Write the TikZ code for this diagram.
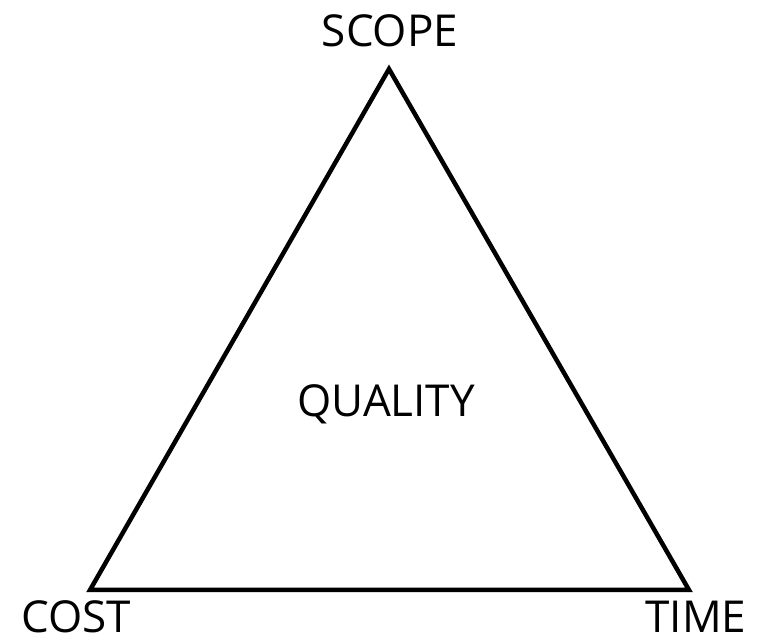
\documentclass[tikz,border=0pt]{standalone}
\usepackage{fontspec}
\setmainfont{Open Sans}
\usepackage{tikz}
\usetikzlibrary{positioning}
\tikzset{
		edgeStyle/.style = 	{line width = 4.5pt, line join=miter},
		label/.style = 		{anchor=base, inner sep=0pt, font=\fontsize{44}{50}\selectfont},
		node distance=2.3cm
}

\begin{document}
\begin{tikzpicture}[x=1pt,y=1pt]
  \useasboundingbox (0,0) rectangle (772,643);
  \coordinate (apex) at (389,574);
  \coordinate (left) at (90,53);
  \coordinate (right) at (689,53);

  \draw [edgeStyle] (apex)--(left)--(right)--cycle;

  \node [label] (scope)   at (390,596) {SCOPE};
  \node [label] (quality) at (386,226) {QUALITY};
  \node [label] (cost)    at (76,10)   {COST};
  \node [label] (time)    at (696,10)  {TIME};
\end{tikzpicture}
\end{document}
